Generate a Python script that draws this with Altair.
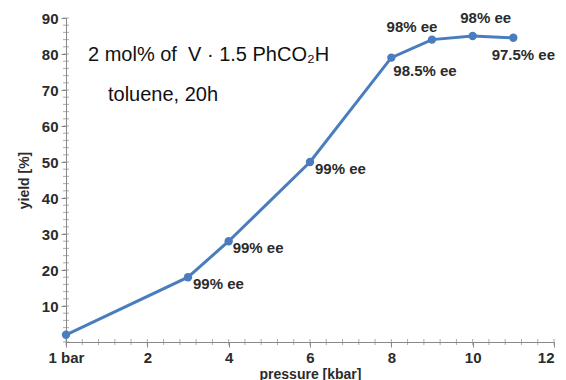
import altair as alt
import pandas as pd

pressure = [0, 3, 4, 6, 8, 9, 10, 11]
yield_pct = [2, 18, 28, 50, 79, 84, 85, 84.5]
ee_labels = ["", "99% ee", "99% ee", "99% ee", "98.5% ee", "98% ee", "98% ee", "97.5% ee"]

x_major = [0, 2, 4, 6, 8, 10, 12]
x_minor = [round(0.4 * i, 1) for i in range(31)]
y_major = [10, 20, 30, 40, 50, 60, 70, 80, 90]
y_minor = list(range(0, 91, 2))

df = pd.DataFrame({"p": pressure, "y": yield_pct, "lab": ee_labels, "i": list(range(len(pressure)))})

FONT = "Liberation Sans"
AX = "#888888"
LBL = "#2b2b2b"
BLUE = "#4a7dbd"
W, H = 488, 324

xs = alt.Scale(domain=[0, 12], nice=False, zero=False)
ys = alt.Scale(domain=[0, 90], nice=False)

base = alt.Chart(df)

line = base.mark_line(color=BLUE, strokeWidth=3).encode(
    x=alt.X("p:Q", scale=xs, axis=alt.Axis(
        values=x_major, title="pressure [kbar]", grid=False,
        labelExpr="datum.value == 0 ? '1 bar' : datum.label",
        labelAlign={"condition": {"test": "datum.value == 12", "value": "right"}, "value": "center"},
        labelFont=FONT, labelFontSize=15, labelFontWeight="bold", labelColor=LBL,
        titleFont=FONT, titleFontSize=14, titleFontWeight="bold", titleColor=LBL,
        domainColor=AX, tickColor=AX, tickSize=5, labelPadding=3, titlePadding=2,
        labelFlush=False)),
    y=alt.Y("y:Q", scale=ys, axis=alt.Axis(
        values=y_major, title="yield [%]", grid=False,
        labelFont=FONT, labelFontSize=15, labelFontWeight="bold", labelColor=LBL,
        titleFont=FONT, titleFontSize=14, titleFontWeight="bold", titleColor=LBL,
        domainColor=AX, tickColor=AX, tickSize=5, labelPadding=3, titlePadding=10)),
)

xminor_df = pd.DataFrame({"v": x_minor})
yminor_df = pd.DataFrame({"v": y_minor})
xminor = alt.Chart(xminor_df).mark_tick(orient="vertical", color=AX, thickness=1, size=6).encode(
    x=alt.X("v:Q", scale=xs), y=alt.value(H))
yminor = alt.Chart(yminor_df).mark_tick(orient="horizontal", color=AX, thickness=1, size=6).encode(
    y=alt.Y("v:Q", scale=ys), x=alt.value(0))

pts = base.mark_circle(color=BLUE, size=70, opacity=1).encode(
    x=alt.X("p:Q", scale=xs), y=alt.Y("y:Q", scale=ys))

offsets = {1: (5, 7, "left"), 2: (4, 7, "left"), 3: (5, 7, "left"), 4: (2, 13, "left"),
           5: (-20, -13, "center"), 6: (13, -18, "center"), 7: (10, 17, "center")}
texts = []
for i, (dx, dy, al) in offsets.items():
    texts.append(base.transform_filter(alt.datum.i == i).mark_text(
        dx=dx, dy=dy, align=al, baseline="middle", font=FONT, fontSize=15,
        fontWeight="bold", color=LBL).encode(
        x=alt.X("p:Q", scale=xs), y=alt.Y("y:Q", scale=ys), text="lab:N"))

NB = "\u00a0"
note1 = alt.Chart(pd.DataFrame({"t": ["2 mol% of" + NB + NB + "V · 1.5 PhCO\u2082H"]})).mark_text(
    align="left", baseline="middle", font=FONT, fontSize=20, color="#111111").encode(
    x=alt.value(22), y=alt.value(37), text="t:N")
note2 = alt.Chart(pd.DataFrame({"t": ["toluene, 20h"]})).mark_text(
    align="left", baseline="middle", font=FONT, fontSize=20, color="#111111").encode(
    x=alt.value(42), y=alt.value(77), text="t:N")

chart = alt.layer(line, xminor, yminor, pts, *texts, note1, note2).properties(
    width=W, height=H,
    autosize=alt.AutoSizeParams(type="none"),
    padding={"left": 58, "top": 10, "right": 4, "bottom": 40},
    background="white",
).configure_view(stroke=None)

chart.save("out.html", embed_options={"renderer": "svg", "actions": False})
